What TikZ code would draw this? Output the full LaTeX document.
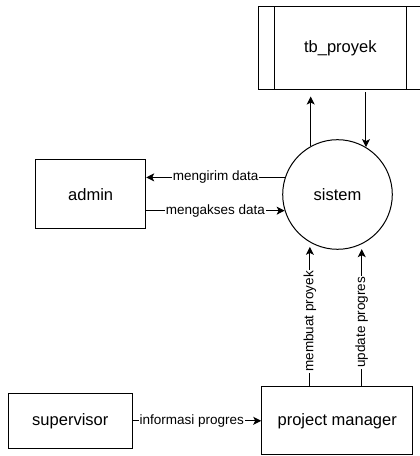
\documentclass[tikz,border=0pt]{standalone}
\usepackage{fontspec}
\setmainfont{Liberation Sans}
\usetikzlibrary{arrows.meta,shapes,positioning}

\begin{document}
\begin{tikzpicture}[x=1pt, y=1pt, line width=1pt,
    every node/.style={font=\fontsize{16.5}{19}\selectfont},
    entity/.style={draw, rectangle, inner sep=0pt},
    lbl/.style={fill=white, inner sep=1pt, font=\fontsize{13.5}{15}\selectfont},
    >={Stealth[length=8pt,width=8pt,inset=2pt]}]
  \useasboundingbox (0,0) rectangle (420,456);

  \node[entity, minimum width=164.6, minimum height=82.3] (tb) at (340.3,408.1) {tb\_proyek};
  \draw ([xshift=16.5]tb.north west) -- ([xshift=16.5]tb.south west);
  \draw ([xshift=-16.5]tb.north east) -- ([xshift=-16.5]tb.south east);

  \node[draw, circle, minimum size=109.6, inner sep=0pt] (sistem) at (337.5,261.5) {sistem};
  \node[entity, minimum width=110, minimum height=69] (admin) at (90.7,261.5) {admin};
  \node[entity, minimum width=124, minimum height=55] (supervisor) at (70.3,35.2) {supervisor};
  \node[entity, minimum width=151, minimum height=68.3] (pm) at (337.2,35.2) {project manager};

  \draw[->] (sistem.162.1) -- node[lbl]{mengirim data} (admin.east |- sistem.162.1);
  \draw[->] (admin.east |- sistem.197.9) -- node[lbl]{mengakses data} (sistem.197.9);
  \draw[->] (supervisor.east) -- node[lbl, pos=0.46]{informasi progres} (pm.west);
  \draw[->, shorten >=4.5pt] (pm.north -| sistem.240.5) -- node[lbl, rotate=90, pos=0.45]{membuat proyek} (sistem.240.5);
  \draw[->, shorten >=5pt] (pm.north -| sistem.296.2) -- node[lbl, rotate=90, pos=0.45]{update progres} (sistem.296.2);
  \draw[->, shorten >=7pt] (sistem.119.3) -- (sistem.119.3 |- tb.south);
  \draw[->, shorten <=2.5pt] (tb.south -| sistem.59.5) -- (sistem.59.5);
\end{tikzpicture}
\end{document}
